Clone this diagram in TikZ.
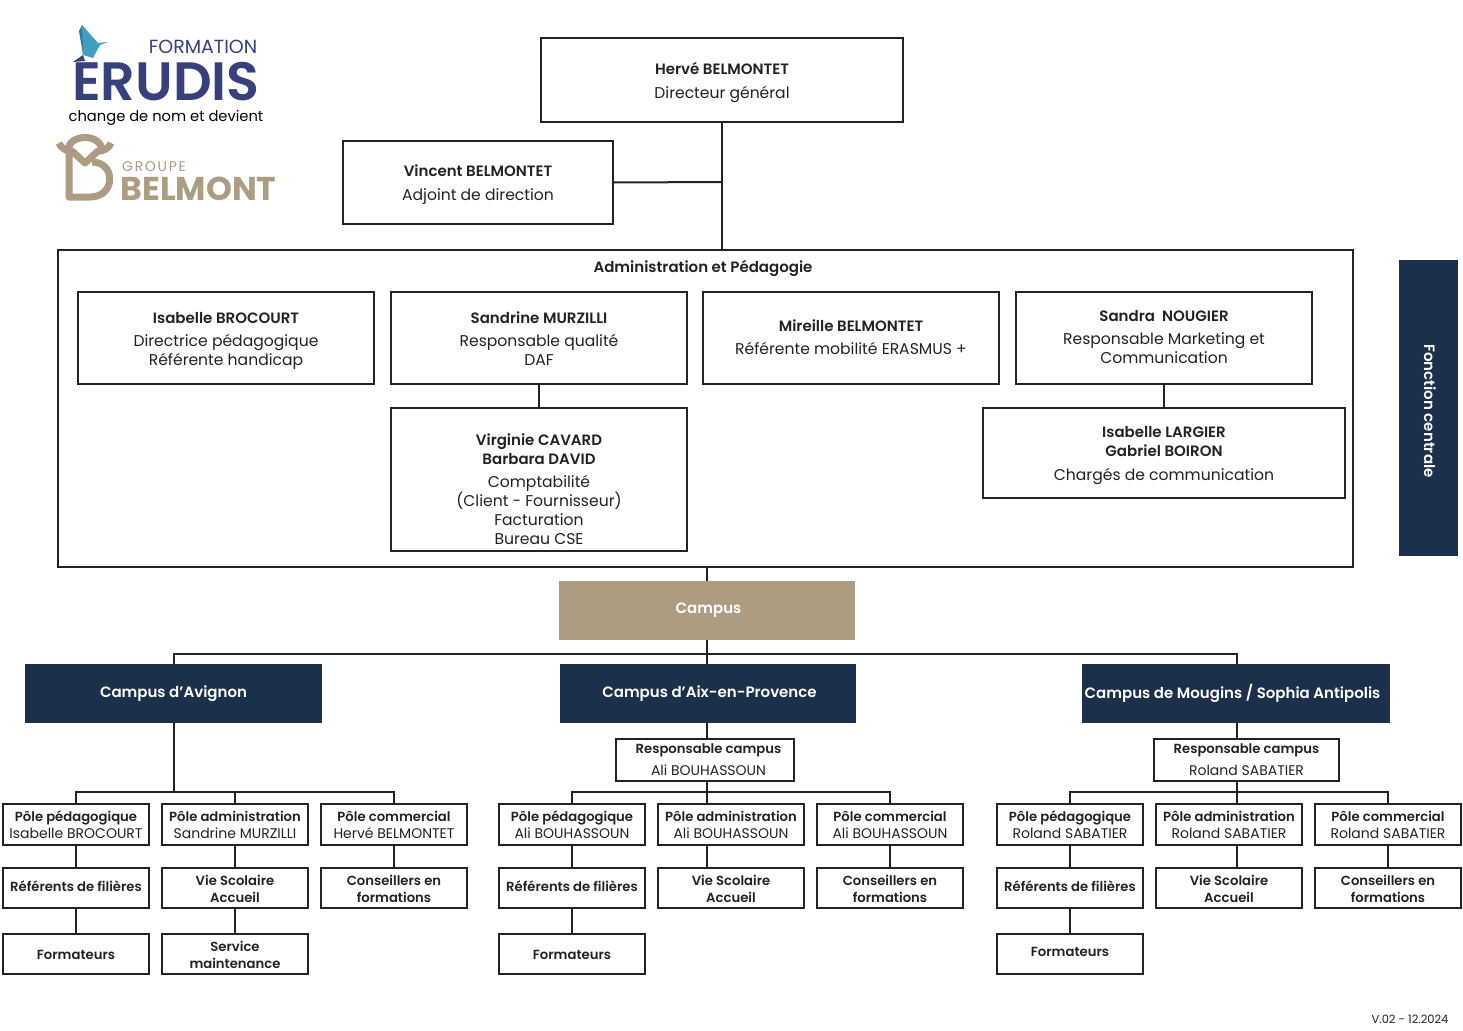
\documentclass[tikz,border=0pt]{standalone}
\usepackage{fontspec}
\setmainfont{Poppins}[BoldFont={Poppins SemiBold}]
\newfontfamily\heavyfont{Poppins Bold}
\usetikzlibrary{positioning}
\definecolor{navy}{HTML}{1B304B}
\definecolor{sand}{HTML}{AE9C82}
\definecolor{ink}{HTML}{222222}
\definecolor{indigo}{HTML}{36407A}
\definecolor{birdblue}{HTML}{3F9DBE}
\definecolor{birdmid}{HTML}{2B7A9B}
\tikzset{
  boxbase/.style={draw=ink, line width=2pt, align=center, inner sep=0pt, text=ink,
    font=\fontsize{15.6}{19}\selectfont,
    execute at begin node={\rule{0pt}{1.1em}}, execute at end node=\strut},
  bigbox/.style={boxbase, minimum width=296pt, minimum height=92pt},
  smallbox/.style={boxbase, minimum width=146pt, minimum height=40pt, font=\fontsize{14}{16.5}\selectfont},
  darkbox/.style={fill=navy, text=white, align=center, inner sep=0pt, minimum height=59pt, font=\fontsize{15}{19}\selectfont\bfseries},
  link/.style={draw=ink, line width=2pt},
}
\newcommand{\who}[1]{{\fontsize{15}{19}\selectfont\bfseries #1}}
\newcommand{\poleb}[1]{{\fontsize{13.2}{16.5}\selectfont\bfseries #1}}
\newcommand{\topgap}[1][18pt]{\rule{0pt}{#1}}
\begin{document}
\begin{tikzpicture}[x=1pt,y=-1pt]
\useasboundingbox (0,0) rectangle (1463,1030);
% logos
\fill[birdmid] (82,25) -- (79,31) -- (83,55) -- (90,42) -- cycle;
\fill[birdblue] (82,25) -- (98,43) -- (108,42) -- (100,45) -- (93,58) -- (83,55) -- cycle;
\fill[indigo] (73,62) -- (83,55) -- (85,61) -- cycle;
\node[inner sep=0pt, text=indigo, font=\fontsize{19}{19}\selectfont] (formation) at (203,47) {FORMATION};
\node[inner sep=0pt, text=indigo, font=\fontsize{54}{54}\selectfont\bfseries] (erudis) at (166,81.5) {ERUDIS};
\node[inner sep=0pt, text=black, font=\fontsize{14.7}{14.7}\selectfont] (change) at (166,118) {change de nom et devient};
\draw[sand, line width=7pt, line join=round]
  (59,143) .. controls (62,150) and (68,151) .. (72,151) -- (85,163) -- (98,151) .. controls (102,151) and (108,150) .. (111,143)
  (69,150) -- (69,197) -- (90,197) .. controls (116,197) and (116,162) .. (92,162)
  (68,151) .. controls (68,133) and (102,133) .. (102,151);
\node[inner sep=0pt, text=sand, font=\fontsize{14}{14}\addfontfeature{LetterSpace=12}\selectfont] (groupe) at (154,166.5) {GROUPE};
\node[inner sep=0pt, text=sand, font=\fontsize{33}{33}\heavyfont] (belmont) at (198.5,189) {BELMONT};
% direction
\node[bigbox, minimum width=362pt, minimum height=84pt] (dg) at (722,80) {\topgap\who{Hervé BELMONTET}\\[5pt]Directeur général};
\node[bigbox, minimum width=270pt, minimum height=83pt] (adj) at (478,182.5) {\topgap\who{Vincent BELMONTET}\\[5pt]Adjoint de direction};
\node[boxbase, minimum width=1295pt, minimum height=317pt] (admin) at (705.5,408.5) {};
\node[inner sep=0pt, text=ink, font=\fontsize{15}{19}\selectfont\bfseries] (admintitle) at (703,268) {Administration et Pédagogie};
\node[bigbox] (brocourt) at (226,338) {\topgap\who{Isabelle BROCOURT}\\[4pt]Directrice pédagogique\\Référente handicap};
\node[bigbox] (murzilli) at (539,338) {\topgap\who{Sandrine MURZILLI}\\[4pt]Responsable qualité\\DAF};
\node[bigbox] (mireille) at (851,338) {\topgap[16pt]\who{Mireille BELMONTET}\\[4pt]Référente mobilité ERASMUS +};
\node[bigbox] (nougier) at (1164,338) {\topgap[15pt]\who{Sandra\ \ NOUGIER}\\[4pt]Responsable Marketing et\\Communication};
\node[bigbox, minimum height=143pt] (cavard) at (539,479.5) {\topgap[37pt]\who{Virginie CAVARD}\\\who{Barbara DAVID}\\[4pt]Comptabilité\\(Client - Fournisseur)\\Facturation\\Bureau CSE};
\node[bigbox, minimum width=362pt, minimum height=90pt] (largier) at (1164,453) {\topgap\who{Isabelle LARGIER}\\\who{Gabriel BOIRON}\\[5pt]Chargés de communication};
\node[darkbox, minimum width=59pt, minimum height=296pt] (fonction) at (1428.5,408) {};
\node[inner sep=0pt, rotate=-90, text=white, font=\fontsize{15}{15}\selectfont\bfseries] (fonctiontext) at (1430,411) {Fonction centrale};
% campus
\node[darkbox, fill=sand, minimum width=296pt] (campus) at (707,610.5) {\hspace*{3pt}Campus};
\node[darkbox, minimum width=297pt] (avignon) at (173.5,693.5) {Campus d’Avignon};
\node[darkbox, minimum width=296pt] (aix) at (708,693.5) {\hspace*{3pt}Campus d’Aix-en-Provence};
\node[darkbox, minimum width=308pt] (mougins) at (1236,693.5) {\hspace*{-7pt}Campus de Mougins / Sophia Antipolis};
\node[smallbox] (respaix) [minimum width=178pt] at (705,760) {\topgap[13.8pt]\hspace*{7pt}\poleb{Responsable campus}\\[6pt]\hspace*{7pt}Ali BOUHASSOUN};
\node[smallbox] (respmougins) [minimum width=185pt] at (1246.5,760) {\topgap[13.8pt]\poleb{Responsable campus}\\[6pt]Roland SABATIER};
\coordinate (campusbar) at (707,654);
\coordinate (mouginsdrop) at (1237,654);
% poles, three per campus
\foreach \name/\xa/\xb/\xc/\xd/\pped/\padm/\pcom/\lift in {
  av/76/235/394/235/Isabelle BROCOURT/Sandrine MURZILLI/Hervé BELMONTET/0pt,
  ai/572/731/890/707/Ali BOUHASSOUN/Ali BOUHASSOUN/Ali BOUHASSOUN/0pt,
  mo/1070/1229/1388/1237/Roland SABATIER/Roland SABATIER/Roland SABATIER/3pt} {
  \node[smallbox, minimum height=41pt] (\name ped) at (\xa,824.5) {\topgap[15.5pt]\poleb{Pôle pédagogique}\\\pped};
  \node[smallbox, minimum height=41pt] (\name adm) at (\xb,824.5) {\topgap[15.5pt]\poleb{Pôle administration}\\\padm};
  \node[smallbox, minimum height=41pt] (\name com) at (\xc,824.5) {\topgap[15.5pt]\poleb{Pôle commercial}\\\pcom};
  \node[smallbox] (\name ref) at (\xa,888) {\raisebox{2pt}{\poleb{Référents de filières}}};
  \node[smallbox] (\name vie) at (\xb,888) {\topgap[17pt]\poleb{Vie Scolaire}\\\poleb{Accueil}};
  \node[smallbox] (\name con) at (\xc,888) {\topgap[17pt]\poleb{Conseillers en}\\\poleb{formations}};
  \node[smallbox] (\name for) at (\xa,954) {\raisebox{\lift}{\poleb{Formateurs}}};
  \coordinate (\name bar) at (\xd,792);
  \draw[link] (\name ped) -- (\name ref);
  \draw[link] (\name ref) -- (\name for);
  \draw[link] (\name bar |- \name adm.south) -- (\name bar |- \name vie.north);
  \draw[link] (\name com) -- (\name con);
  \draw[link] (\name ped.north) |- (\name bar) -| (\name com.north);
  \draw[link] (\name bar) -- (\name bar |- \name adm.north);
}
\node[smallbox] (service) at (235,954) {\topgap[17pt]\poleb{Service}\\\poleb{maintenance}};
\draw[link] (avvie) -- (service);
% connectors
\coordinate (trunk) at (722,182);
\draw[link] (dg.south) -- (trunk |- admin.north);
\draw[link] (adj.east) -- (trunk);
\draw[link] (murzilli.south) -- (murzilli.south |- cavard.north);
\draw[link] (nougier.south) -- (nougier.south |- largier.north);
\draw[link] (campus.north) -- (campus.north |- admin.south);
\draw[link] (campus.south) -- (campusbar);
\draw[link] (avignon.north) |- (campusbar) -- (mouginsdrop) -- (mouginsdrop |- mougins.north);
\draw[link] (campusbar) -- (campusbar |- aix.north);
\draw[link] (avignon.south) -- (avignon.south |- avbar);
\draw[link] (aibar |- aix.south) -- (aibar |- respaix.north);
\draw[link] (mobar |- mougins.south) -- (mobar |- respmougins.north);
\draw[link] (aibar |- respaix.south) -- (aibar);
\draw[link] (mobar |- respmougins.south) -- (mobar);
\node[inner sep=0pt, text=ink, font=\fontsize{11.5}{11.5}\selectfont] (version) at (1410,1019) {V.02 - 12.2024};
\end{tikzpicture}
\end{document}
